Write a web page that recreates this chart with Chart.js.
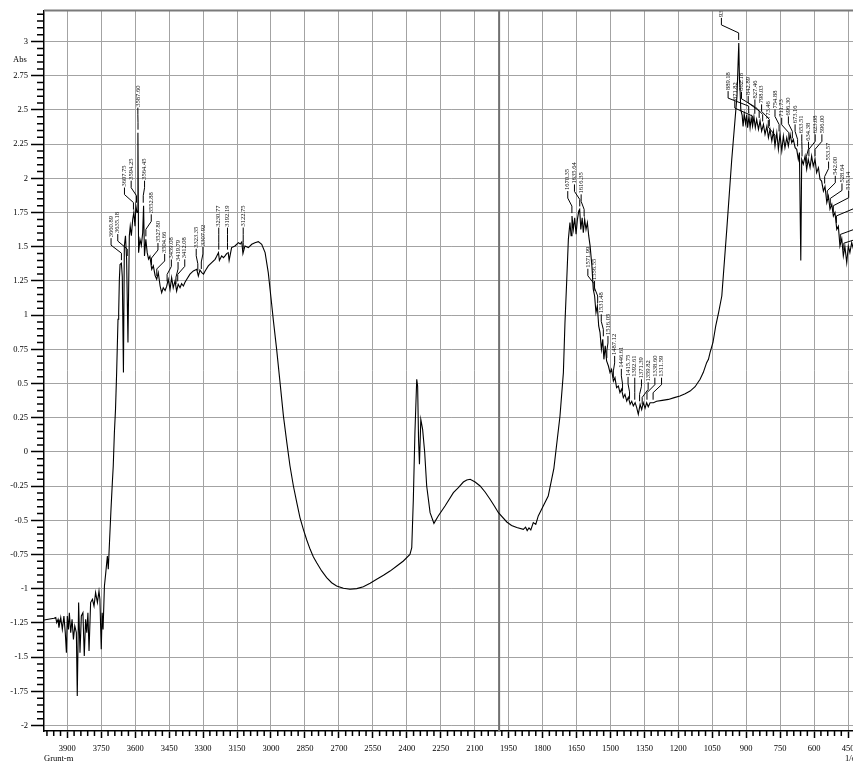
<!DOCTYPE html>
<html>
<head>
<meta charset="utf-8">
<script src="https://cdn.jsdelivr.net/npm/chart.js@4.4.0/dist/chart.umd.min.js"></script>
<style>
  html, body { margin: 0; padding: 0; background: #fff; overflow: hidden; }
  #wrap { position: relative; width: 862px; height: 763px; }
</style>
</head>
<body>
<div id="wrap"><canvas id="spectrum"></canvas></div>
<script>
// wavenumber (1/cm) and absorbance
const wavenumbers = [
  4003, 3959, 3951, 3947, 3941, 3937, 3929, 3922, 3915, 3909, 3904, 3900, 3895, 3891, 3885, 3879,
  3873, 3867, 3860, 3856, 3850, 3844, 3838, 3831, 3825, 3819, 3814, 3809, 3804, 3797, 3789, 3782,
  3775, 3767, 3760, 3756, 3750, 3746, 3742, 3736, 3730, 3723, 3719, 3713, 3707, 3701, 3697, 3692,
  3687, 3682, 3676, 3673, 3670, 3667, 3661, 3657, 3652, 3648, 3643, 3638, 3632, 3626, 3622, 3617,
  3611, 3606, 3601, 3597, 3592, 3588, 3585, 3579, 3573, 3567, 3563, 3559, 3553, 3547, 3541, 3535,
  3527, 3520, 3512, 3505, 3498, 3490, 3483, 3476, 3468, 3461, 3454, 3446, 3439, 3432, 3424, 3417,
  3410, 3402, 3395, 3387, 3380, 3372, 3358, 3343, 3328, 3321, 3314, 3306, 3298, 3291, 3277, 3262,
  3247, 3240, 3232, 3228, 3218, 3210, 3203, 3196, 3189, 3185, 3174, 3159, 3144, 3136, 3129, 3124,
  3115, 3100, 3085, 3071, 3056, 3041, 3026, 3012, 2997, 2990, 2975, 2960, 2945, 2930, 2916, 2901,
  2886, 2872, 2857, 2842, 2827, 2813, 2798, 2776, 2754, 2732, 2710, 2680, 2651, 2621, 2592, 2562,
  2533, 2503, 2474, 2444, 2415, 2386, 2378, 2371, 2364, 2356, 2352, 2348, 2344, 2338, 2330, 2321,
  2312, 2297, 2280, 2261, 2231, 2194, 2172, 2150, 2135, 2120, 2098, 2076, 2054, 2032, 2013, 1995,
  1958, 1937, 1914, 1885, 1875, 1868, 1860, 1852, 1841, 1830, 1819, 1797, 1775, 1750, 1723, 1708,
  1701, 1693, 1686, 1679, 1674, 1670, 1664, 1658, 1652, 1646, 1640, 1636, 1631, 1625, 1620, 1614,
  1608, 1602, 1596, 1590, 1582, 1576, 1570, 1564, 1558, 1552, 1546, 1540, 1534, 1529, 1523, 1517,
  1509, 1502, 1495, 1487, 1480, 1473, 1465, 1458, 1451, 1443, 1436, 1428, 1421, 1413, 1406, 1399,
  1391, 1384, 1377, 1369, 1362, 1355, 1347, 1340, 1333, 1325, 1310, 1296, 1271, 1244, 1218, 1193,
  1170, 1148, 1126, 1104, 1090, 1075, 1067, 1060, 1047, 1035, 1022, 1008, 986, 964, 941, 933,
  930, 928, 924, 918, 914, 909, 903, 898, 894, 888, 883, 878, 872, 866, 860, 854,
  846, 839, 832, 824, 817, 809, 802, 795, 787, 780, 773, 765, 758, 751, 743, 736,
  729, 721, 714, 706, 699, 692, 684, 677, 670, 665, 659, 655, 648, 640, 633, 626,
  618, 611, 604, 596, 589, 581, 574, 567, 559, 552, 544, 537, 530, 522, 515, 508,
  500, 493, 486, 478, 471, 464, 456, 449, 442, 434, 426
];
const absorbance = [
  -1.229, -1.216, -1.211, -1.248, -1.224, -1.284, -1.211, -1.297, -1.199, -1.321, -1.467, -1.199, -1.297, -1.175, -1.321, -1.224,
  -1.370, -1.272, -1.321, -1.784, -1.101, -1.467, -1.199, -1.175, -1.492, -1.224, -1.321, -1.175, -1.455, -1.101, -1.077, -1.126,
  -1.028, -1.101, -1.017, -1.077, -1.443, -1.175, -1.297, -0.980, -0.882, -0.761, -0.858, -0.639, -0.420, -0.224, -0.103, 0.141,
  0.311, 0.58, 0.97, 1.02, 1.26, 1.37, 1.38, 1.28, 0.58, 1.506, 1.58, 1.41, 0.80, 1.58, 1.65, 1.58,
  1.70, 1.75, 1.65, 1.80, 1.75, 2.334, 1.457, 1.554, 1.51, 1.60, 1.80, 1.432, 1.554, 1.457, 1.41, 1.43,
  1.335, 1.36, 1.29, 1.262, 1.31, 1.213, 1.164, 1.20, 1.18, 1.21, 1.262, 1.188, 1.274, 1.20, 1.25, 1.176,
  1.225, 1.20, 1.23, 1.213, 1.24, 1.262, 1.30, 1.323, 1.335, 1.286, 1.33, 1.311, 1.30, 1.323, 1.36, 1.384,
  1.408, 1.43, 1.457, 1.40, 1.433, 1.42, 1.433, 1.45, 1.457, 1.40, 1.494, 1.506, 1.530, 1.52, 1.535, 1.45,
  1.506, 1.494, 1.518, 1.530, 1.537, 1.518, 1.457, 1.311, 1.08, 0.969, 0.75, 0.507, 0.262, 0.068, -0.103, -0.249,
  -0.371, -0.480, -0.566, -0.644, -0.712, -0.766, -0.81, -0.870, -0.919, -0.956, -0.98, -0.997, -1.004, -0.999, -0.985, -0.960,
  -0.931, -0.902, -0.871, -0.834, -0.797, -0.749, -0.700, -0.346, 0.141, 0.531, 0.48, 0.092, -0.09, 0.238, 0.165, 0.0,
  -0.249, -0.444, -0.522, -0.468, -0.395, -0.298, -0.261, -0.220, -0.205, -0.200, -0.220, -0.249, -0.293, -0.346, -0.395, -0.444,
  -0.512, -0.537, -0.553, -0.566, -0.55, -0.575, -0.555, -0.57, -0.517, -0.53, -0.468, -0.395, -0.322, -0.12, 0.263, 0.58,
  0.945, 1.262, 1.554, 1.676, 1.58, 1.724, 1.627, 1.712, 1.591, 1.70, 1.761, 1.773, 1.627, 1.712, 1.603, 1.70,
  1.627, 1.676, 1.579, 1.506, 1.36, 1.189, 1.14, 1.018, 1.067, 0.921, 0.872, 0.75, 0.823, 0.677, 0.775, 0.665,
  0.628, 0.58, 0.604, 0.518, 0.543, 0.47, 0.482, 0.434, 0.458, 0.397, 0.421, 0.372, 0.40, 0.348, 0.37, 0.336,
  0.36, 0.324, 0.275, 0.348, 0.31, 0.36, 0.32, 0.36, 0.33, 0.36, 0.36, 0.37, 0.377, 0.384, 0.397, 0.409,
  0.426, 0.445, 0.477, 0.531, 0.580, 0.653, 0.677, 0.726, 0.80, 0.92, 1.02, 1.14, 1.627, 2.139, 2.60, 2.99,
  2.72, 2.675, 2.50, 2.46, 2.38, 2.47, 2.40, 2.465, 2.37, 2.455, 2.37, 2.443, 2.38, 2.45, 2.37, 2.431,
  2.358, 2.42, 2.345, 2.394, 2.321, 2.38, 2.297, 2.358, 2.273, 2.345, 2.236, 2.333, 2.212, 2.321, 2.20, 2.309,
  2.224, 2.297, 2.236, 2.321, 2.261, 2.285, 2.224, 2.212, 2.139, 2.188, 1.40, 2.139, 2.103, 2.163, 2.066, 2.139,
  2.078, 2.163, 2.09, 2.139, 2.042, 2.078, 1.993, 1.98, 1.907, 1.94, 1.822, 1.87, 1.774, 1.81, 1.725, 1.75,
  1.627, 1.65, 1.505, 1.56, 1.432, 1.50, 1.383, 1.505, 1.457, 1.530, 1.48
];

// peak picks printed on the plot
const peakLabels = [
  "3660.89", "3635.18", "3607.75", "3594.25", "3587.60", "3564.45", "3552.88", "3527.80", "3504.66",
  "3459.08", "3419.79", "3412.08", "3323.35", "3307.92", "3230.77", "3192.19", "3122.75",
  "1670.35", "1635.64", "1616.35", "1571.99", "1556.55", "1531.48", "1516.05", "1487.12", "1446.61",
  "1415.75", "1392.61", "1371.39", "1359.82", "1338.60", "1311.59",
  "933.47", "889.18", "871.82", "862.18", "842.89", "827.46", "798.03", "773.46", "754.88", "711.73",
  "696.30", "673.16", "653.51", "634.38", "623.08", "596.00", "553.57", "542.00",
  "528.64", "515.14", "501.64", "484.28", "468.85"
];

const xTickValues = [3900, 3750, 3600, 3450, 3300, 3150, 3000, 2850, 2700, 2550, 2400, 2250, 2100, 1950, 1800, 1650, 1500, 1350, 1200, 1050, 900, 750, 600, 450];
const yTickValues = [-2, -1.75, -1.5, -1.25, -1, -0.75, -0.5, -0.25, 0, 0.25, 0.5, 0.75, 1, 1.25, 1.5, 1.75, 2, 2.25, 2.5, 2.75, 3];
const cursorWavenumber = 1992;

const serif = "'Liberation Serif', 'DejaVu Serif', serif";

function valueAt(wn) {
  for (let i = 1; i < wavenumbers.length; i++) {
    if (wavenumbers[i] <= wn) {
      const t = (wn - wavenumbers[i]) / (wavenumbers[i - 1] - wavenumbers[i]);
      return absorbance[i] + t * (absorbance[i - 1] - absorbance[i]);
    }
  }
  return absorbance[absorbance.length - 1];
}

const cursorLine = {
  id: 'cursorLine',
  beforeDatasetsDraw(chart) {
    const { ctx, chartArea: a, scales: { x } } = chart;
    const px = x.getPixelForValue(cursorWavenumber);
    ctx.save();
    ctx.strokeStyle = '#707070';
    ctx.lineWidth = 2;
    ctx.beginPath();
    ctx.moveTo(px, a.top);
    ctx.lineTo(px, a.bottom);
    ctx.stroke();
    ctx.restore();
  }
};

const peakMarks = {
  id: 'peakMarks',
  afterDatasetsDraw(chart) {
    const { ctx, chartArea: a, scales: { x, y } } = chart;
    const gap = 6.7;
    const items = peakLabels.map(t => {
      const wn = parseFloat(t);
      let top = y.getPixelForValue(valueAt(wn));
      wavenumbers.forEach((w, i) => {
        if (Math.abs(w - wn) <= 4) top = Math.min(top, y.getPixelForValue(absorbance[i]));
      });
      const px = x.getPixelForValue(wn);
      return { t, px, lx: px, top };
    });
    items.sort((p, q) => p.px - q.px);
    // push crowded labels apart
    for (let k = 0; k < 400; k++) {
      for (let i = 1; i < items.length; i++) {
        const d = items[i].lx - items[i - 1].lx;
        if (d < gap) {
          const m = (gap - d) / 2;
          items[i].lx += m;
          items[i - 1].lx -= m;
        }
      }
    }
    ctx.save();
    ctx.beginPath();
    ctx.rect(a.left, a.top, a.right - a.left, a.bottom - a.top);
    ctx.clip();
    ctx.strokeStyle = '#000';
    ctx.lineWidth = 1;
    ctx.fillStyle = '#000';
    ctx.font = '6.5px ' + serif;
    items.forEach(it => {
      const base = it.top - 26;
      ctx.beginPath();
      ctx.moveTo(it.px, it.top - 3);
      ctx.lineTo(it.px, it.top - 10);
      ctx.lineTo(it.lx, it.top - 18);
      ctx.lineTo(it.lx, base + 1);
      ctx.stroke();
      ctx.save();
      ctx.translate(it.lx, base);
      ctx.rotate(-Math.PI / 2);
      ctx.textAlign = 'left';
      ctx.textBaseline = 'middle';
      ctx.fillText(it.t, 0, 0);
      ctx.restore();
    });
    ctx.restore();
  },
  afterDraw(chart) {
    const { ctx, chartArea: a, scales: { x, y } } = chart;
    ctx.save();
    // minor ticks
    ctx.strokeStyle = '#000';
    ctx.lineWidth = 1.5;
    ctx.beginPath();
    for (let v = -200; v <= 320; v += 5) {
      if (v % 25 === 0) continue;
      const py = y.getPixelForValue(v / 100);
      if (py < a.top || py > a.bottom) continue;
      ctx.moveTo(a.left - 7, py);
      ctx.lineTo(a.left, py);
    }
    for (let w = 3990; w >= 420; w -= 30) {
      if (w % 150 === 0) continue;
      const px = x.getPixelForValue(w);
      ctx.moveTo(px, a.bottom);
      ctx.lineTo(px, a.bottom + 5);
    }
    ctx.stroke();
    // top frame
    ctx.strokeStyle = '#7a7a7a';
    ctx.lineWidth = 2;
    ctx.beginPath();
    ctx.moveTo(a.left, a.top);
    ctx.lineTo(a.right, a.top);
    ctx.stroke();
    // axis captions
    ctx.fillStyle = '#000';
    ctx.font = '8.5px ' + serif;
    ctx.textBaseline = 'middle';
    ctx.textAlign = 'left';
    ctx.fillText('Abs', 13, 60);
    ctx.fillText('Grunt-m', 44, 759);
    ctx.fillText('1/cm', 845, 759);
    ctx.restore();
  }
};

new Chart(document.getElementById('spectrum').getContext('2d'), {
  type: 'line',
  data: {
    datasets: [
      {
        data: wavenumbers.map((w, i) => ({ x: w, y: absorbance[i] })),
        borderColor: '#000',
        borderWidth: 1.1,
        pointRadius: 0,
        tension: 0,
        fill: false,
      },
    ],
  },
  options: {
    responsive: true,
    maintainAspectRatio: false,
    animation: false,
    events: [],
    layout: {
      padding: { top: 10.5, right: 2.6, left: 0, bottom: 0 },
    },
    plugins: {
      legend: { display: false },
      tooltip: { enabled: false },
    },
    scales: {
      x: {
        type: 'linear',
        reverse: true,
        min: 400,
        max: 4003,
        afterBuildTicks: (scale) => { scale.ticks = xTickValues.map(v => ({ value: v })) },
        afterFit: (scale) => { scale.height = 32 },
        border: { color: '#000', width: 1.5 },
        grid: { color: '#a3a3a3', lineWidth: 1, tickColor: '#000', tickWidth: 1.5, tickLength: 7 },
        ticks: {
          color: '#000',
          font: { family: serif, size: 8.5 },
          maxRotation: 0,
          autoSkip: false,
          padding: 6,
          callback: (v) => String(v),
        },
      },
      y: {
        min: -2.04,
        max: 3.227,
        afterBuildTicks: (scale) => { scale.ticks = yTickValues.map(v => ({ value: v })) },
        afterFit: (scale) => { scale.width = 44 },
        border: { color: '#000', width: 1.5 },
        grid: { color: '#a3a3a3', lineWidth: 1, tickColor: '#000', tickWidth: 1.5, tickLength: 13 },
        ticks: {
          color: '#000',
          font: { family: serif, size: 8.5 },
          padding: 3,
          callback: (v) => String(v),
        },
      },
    },
  },
  plugins: [cursorLine, peakMarks],
});
</script>
</body>
</html>
